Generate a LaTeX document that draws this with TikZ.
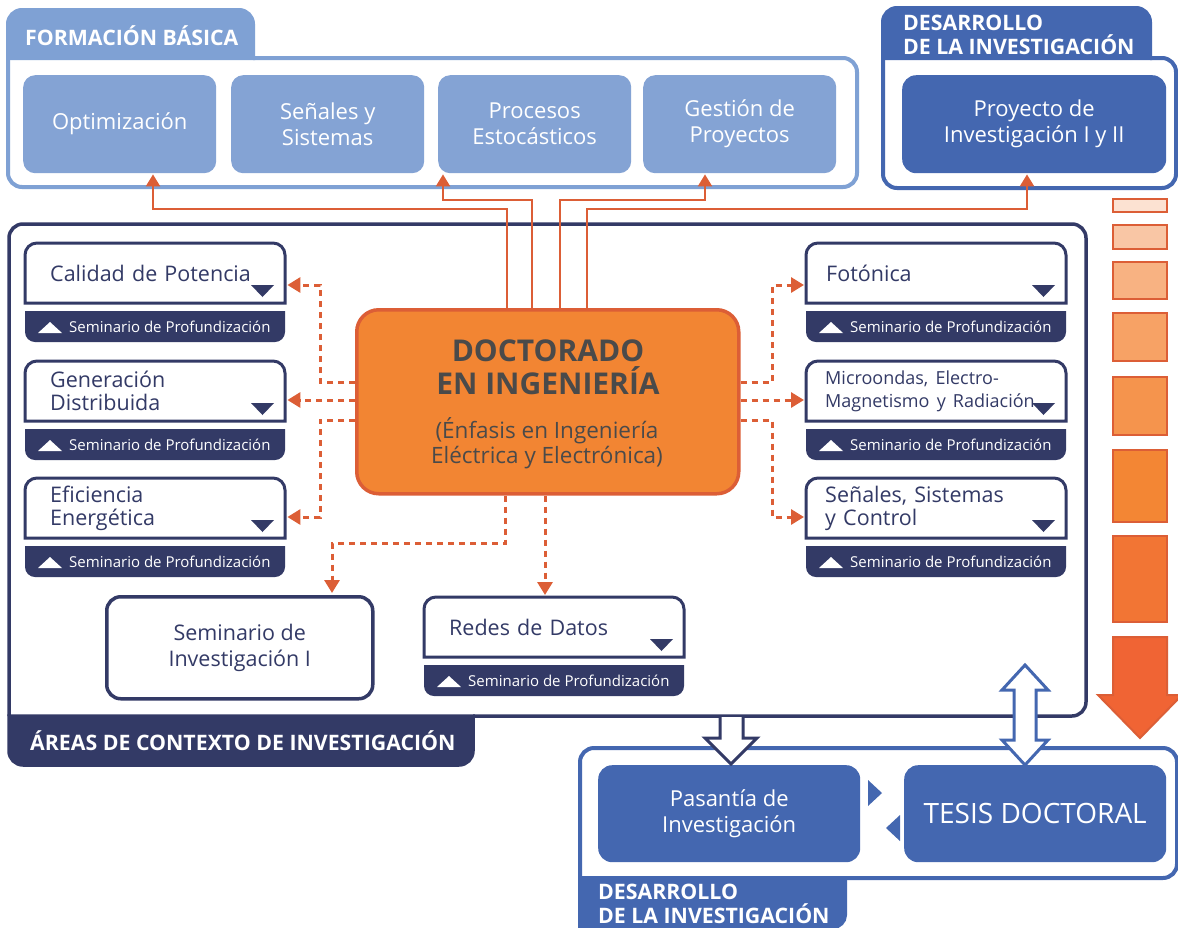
\documentclass[tikz,border=0pt]{standalone}
\usepackage{fontspec}
\setmainfont{Open Sans}
\usetikzlibrary{arrows.meta}
\definecolor{fbblue}{HTML}{7FA1D4}
\definecolor{fbbox}{HTML}{84A3D4}
\definecolor{devblue}{HTML}{4467B0}
\definecolor{navy}{HTML}{333A66}
\definecolor{orfill}{HTML}{F28533}
\definecolor{orline}{HTML}{DC5E36}
\definecolor{docgray}{HTML}{4A4A4A}
\definecolor{sA}{HTML}{FCE2D2}
\definecolor{sB}{HTML}{F9C6A5}
\definecolor{sC}{HTML}{F8B282}
\definecolor{sD}{HTML}{F7A265}
\definecolor{sE}{HTML}{F5944D}
\definecolor{sF}{HTML}{F38634}
\definecolor{sG}{HTML}{F27534}
\definecolor{sH}{HTML}{F06434}
\newcommand\fsB{\fontsize{15}{18}\selectfont}
\newcommand\fsH{\fontsize{21.3}{24}\selectfont\bfseries}
\newcommand\fsM{\fontsize{18}{20.5}\selectfont}
\newcommand\fsT{\fontsize{28}{32}\selectfont}
% area box: #1 text inset, #2 text width, #3 name, #4 x, #5 y (top-left), #6 text
\newcommand\areabox[6]{%
  \draw[navy, line width=3pt, fill=white] (#4,#5+60) -- (#4,#5+12) arc[start angle=180,end angle=90,radius=12pt] -- (#4+248,#5) arc[start angle=90,end angle=0,radius=12pt] -- (#4+260,#5+60) -- cycle;
  \fill[navy] (#4+226,#5+42) -- (#4+249,#5+42) -- (#4+237.5,#5+54) -- cycle;
  \node[areatext, inner xsep=#1, text width=#2] (#3) at (#4,#5) {#6};
  \fill[navy] (#4,#5+68) -- (#4+260,#5+68) -- (#4+260,#5+89) arc[start angle=0,end angle=-90,radius=10pt] -- (#4+10,#5+99) arc[start angle=270,end angle=180,radius=10pt] -- cycle;
  \fill[white] (#4+13,#5+90) -- (#4+37,#5+90) -- (#4+25,#5+79) -- cycle;
  \node[bartext] (#3s) at (#4+44,#5+84) {Seminario de Profundización};
}
\begin{document}
\begin{tikzpicture}[x=1pt,y=-1pt,
  fbb/.style={anchor=north west, minimum width=193pt, minimum height=98pt, rounded corners=12pt, fill=fbbox, text=white, font=\fontsize{22}{26}\selectfont, align=center, inner sep=0pt},
  devb/.style={anchor=north west, minimum width=262pt, minimum height=97pt, rounded corners=14pt, fill=devblue, text=white, font=\fontsize{22}{26}\selectfont, align=center, inner sep=0pt},
  areatext/.style={anchor=north west, inner ysep=0pt, minimum height=60pt, align=left, text=navy, font=\fontsize{21.5}{23}\selectfont},
  bartext/.style={anchor=west, inner sep=0pt, text=white, font=\fsB},
  hdr/.style={anchor=west, inner sep=0pt, text=white, font=\fsH, align=left},
  oconn/.style={orline, line width=2.2pt, -{Triangle[width=14pt,length=12pt]}, shorten >=1pt},
  dconn/.style={orline, line width=3pt, dash pattern=on 6pt off 5pt, -{Triangle[width=15pt,length=13pt]}, shorten >=2pt},
  stepbox/.style={draw=orline, line width=2.5pt}
]
\useasboundingbox (0,0) rectangle (1178,927);
\fill[white] (0,0) rectangle (1178,927);

% ---------- Formacion basica ----------
\filldraw[fbblue, line width=4pt] (8,58) -- (8,24) arc[start angle=180,end angle=90,radius=14pt] -- (239,10) arc[start angle=90,end angle=0,radius=14pt] -- (253,58) -- cycle;
\draw[fbblue, line width=4pt] (8,58) -- (8,173) arc[start angle=180,end angle=270,radius=14pt] -- (843,187) arc[start angle=270,end angle=360,radius=14pt] -- (857,72) arc[start angle=0,end angle=90,radius=14pt] -- (253,58);
\node[hdr] (fbtitle) at (25,36) {FORMACIÓN BÁSICA};
\node[fbb] (opt) at (23,75) {Optimización};
\node[fbb] (sen) at (231,75) {Señales y\\Sistemas};
\node[fbb] (pro) at (438,75) {Procesos\\Estocásticos};
\node[fbb] (ges) at (643,75) {Gestión de\\Proyectos};

% ---------- Desarrollo (top) ----------
\filldraw[devblue, line width=4pt] (883,58) -- (883,22) arc[start angle=180,end angle=90,radius=14pt] -- (1136,8) arc[start angle=90,end angle=0,radius=14pt] -- (1150,58) -- cycle;
\draw[devblue, line width=4pt] (883,58) -- (883,174) arc[start angle=180,end angle=270,radius=14pt] -- (1162,188) arc[start angle=270,end angle=360,radius=14pt] -- (1176,72) arc[start angle=0,end angle=90,radius=14pt] -- (1150,58);
\node[hdr] (dtitle) at (903,35) {DESARROLLO\\DE LA INVESTIGACIÓN};
\node[devb, minimum width=264pt, minimum height=98pt] (proy) at (902,75) {Proyecto de\\Investigación I y II};

% ---------- Areas de contexto ----------
\draw[navy, line width=3.5pt] (473,716) -- (1072,716) arc[start angle=270,end angle=360,radius=14pt] -- (1086,238) arc[start angle=0,end angle=90,radius=14pt] -- (23,224) arc[start angle=90,end angle=180,radius=14pt] -- (9,716);
\filldraw[navy, line width=3.5pt] (9,716) -- (9,751) arc[start angle=180,end angle=270,radius=14pt] -- (459,765) arc[start angle=270,end angle=360,radius=14pt] -- (473,716) -- cycle;
\node[hdr] (atitle) at (30,741) {ÁREAS DE CONTEXTO DE INVESTIGACIÓN};

\areabox{25pt}{210pt}{cal}{25}{243}{Calidad de Potencia}
\areabox{25pt}{210pt}{gen}{25}{361}{Generación\\Distribuida}
\areabox{25pt}{210pt}{efi}{25}{478}{Eficiencia\\Energética}
\areabox{20pt}{220pt}{fot}{806}{243}{Fotónica}
\areabox{19pt}{222pt}{mic}{806}{361}{\fsM Microondas, Electro-\\Magnetismo y Radiación}
\areabox{19pt}{222pt}{ssc}{806}{478}{Señales, Sistemas\\y Control}
\areabox{25pt}{210pt}{red}{424}{597}{Redes de Datos}

\node[anchor=north west, minimum width=266pt, minimum height=102pt, rounded corners=14pt, draw=navy, line width=3.5pt, fill=white, text=navy, font=\fontsize{21.5}{26}\selectfont, align=center, inner sep=0pt] (semI) at (105,595) {Seminario de\\Investigación I};

% ---------- Doctorado ----------
\node[anchor=north west, minimum width=382pt, minimum height=184pt, inner sep=0pt, rounded corners=22pt, fill=orfill, draw=orline, line width=3.5pt] (doc) at (355,308) {};
\node[font=\fontsize{30}{33}\selectfont\bfseries, text=docgray, align=center, inner sep=0pt] (docT) at (548,367) {DOCTORADO\\EN INGENIERÍA};
\node[font=\fontsize{22.5}{25.5}\selectfont, text=docgray, align=center, inner sep=0pt] (docS) at (547,443) {(Énfasis en Ingeniería\\Eléctrica y Electrónica)};

% ---------- solid connectors ----------
\draw[oconn] (doc.north -| 507,0) |- (153,209) -- (opt.south -| 153,0);
\draw[oconn] (doc.north -| 532,0) |- (443,200) -- (pro.south -| 443,0);
\draw[oconn] (doc.north -| 560,0) |- (705,200) -- (ges.south -| 705,0);
\draw[oconn] (doc.north -| 587,0) |- (1027,209) -- (proy.south -| 1027,0);

% ---------- dashed connectors ----------
\draw[dconn] (doc.west |- 0,382) -| (320,285) -- (cal.east |- 0,285);
\draw[dconn] (doc.west |- 0,400) -- (gen.east |- 0,400);
\draw[dconn] (doc.west |- 0,420) -| (320,517) -- (efi.east |- 0,517);
\draw[dconn] (doc.east |- 0,382) -| (772,285) -- (fot.west |- 0,285);
\draw[dconn] (doc.east |- 0,400) -- (mic.west |- 0,400);
\draw[dconn] (doc.east |- 0,420) -| (772,517) -- (ssc.west |- 0,517);
\draw[dconn] (doc.south -| 505,0) |- (332,543) -- (semI.north -| 332,0);
\draw[dconn] (doc.south -| 545,0) -- (red.north -| 545,0);

% ---------- orange step column ----------
\filldraw[stepbox, fill=sA] (1113,199) rectangle (1167,212);
\filldraw[stepbox, fill=sB] (1113,225) rectangle (1167,249);
\filldraw[stepbox, fill=sC] (1113,262) rectangle (1167,299);
\filldraw[stepbox, fill=sD] (1113,313) rectangle (1167,361);
\filldraw[stepbox, fill=sE] (1113,377) rectangle (1167,435);
\filldraw[stepbox, fill=sF] (1113,450) rectangle (1167,522);
\filldraw[stepbox, fill=sG] (1113,536) rectangle (1167,622);
\filldraw[stepbox, line width=2pt, fill=sH] (1113,637) -- (1167,637) -- (1167,695) -- (1182,695) -- (1140,738) -- (1098,695) -- (1113,695) -- cycle;

% ---------- Desarrollo (bottom) ----------
\draw[devblue, line width=4pt] (580,878) -- (580,762) arc[start angle=180,end angle=90,radius=14pt] -- (1163,748) arc[start angle=90,end angle=0,radius=14pt] -- (1177,864) arc[start angle=0,end angle=-90,radius=14pt] -- (845,878);
\filldraw[devblue, line width=4pt] (580,878) -- (580,927) -- (833,927) arc[start angle=270,end angle=360,radius=12pt] -- (845,878) -- cycle;
\node[hdr, font=\fontsize{21.3}{23.5}\selectfont\bfseries] (dtitleB) at (598,904) {DESARROLLO\\DE LA INVESTIGACIÓN};
\node[devb] (pas) at (598,765) {Pasantía de\\Investigación};
\node[devb, font=\fsT] (tes) at (904,765) {TESIS DOCTORAL};
\fill[devblue] (868,780) -- (882,793) -- (868,806) -- cycle;
\fill[devblue] (900,815) -- (886,828) -- (900,841) -- cycle;

% ---------- hollow arrows ----------
\filldraw[navy, fill=white, line width=3pt, line join=miter] (720,717) -- (720,738) -- (705,738) -- (731,764) -- (757,738) -- (743,738) -- (743,717);
\filldraw[devblue, fill=white, line width=3pt] (1025,665) -- (1048,690) -- (1036,690) -- (1036,740) -- (1048,740) -- (1025,765) -- (1002,740) -- (1014,740) -- (1014,690) -- (1002,690) -- cycle;
\end{tikzpicture}
\end{document}
